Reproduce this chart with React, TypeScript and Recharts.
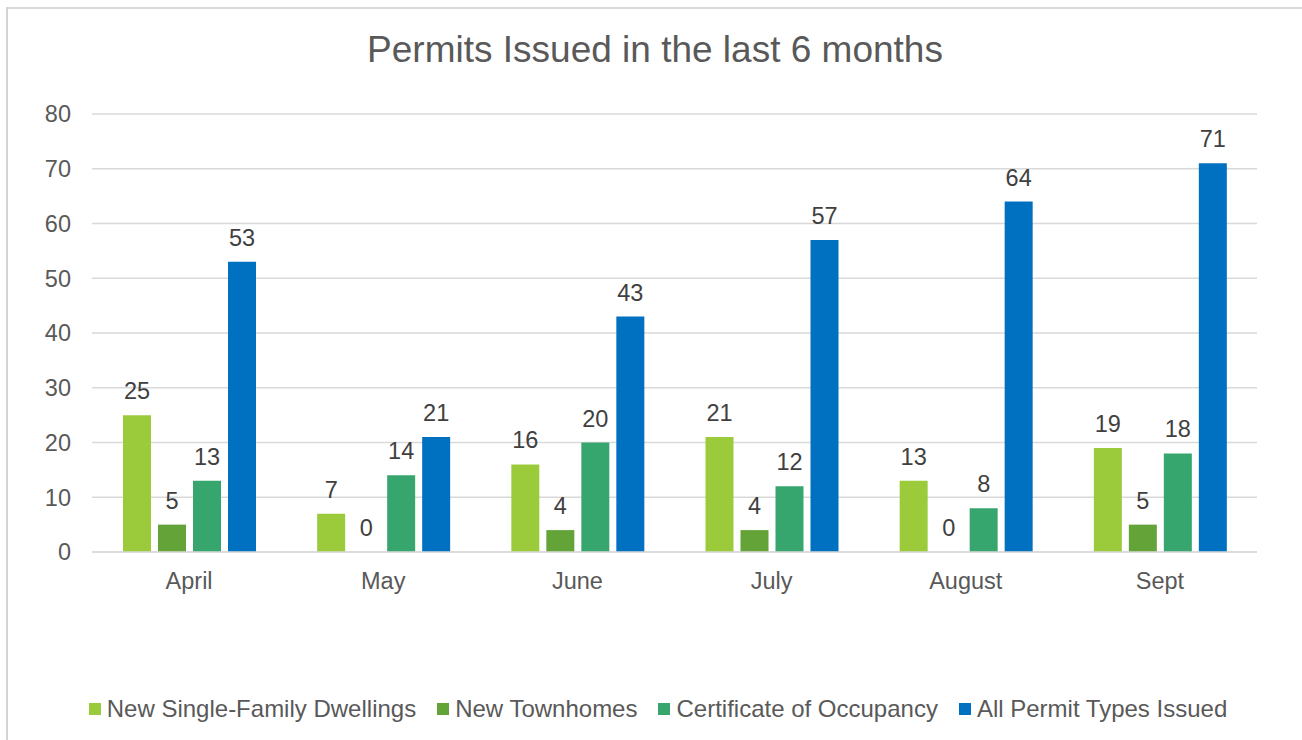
import { BarChart, Bar, XAxis, YAxis, CartesianGrid, LabelList, Rectangle } from 'recharts'

const MONTHS = ['April', 'May', 'June', 'July', 'August', 'Sept']
const SINGLE_FAMILY = [25, 7, 16, 21, 13, 19]
const TOWNHOMES = [5, 0, 4, 4, 0, 5]
const CERT_OCCUPANCY = [13, 14, 20, 12, 8, 18]
const ALL_PERMITS = [53, 21, 43, 57, 64, 71]
const Y_TICKS = [0, 10, 20, 30, 40, 50, 60, 70, 80]

const SERIES = [
  { key: 'single', name: 'New Single-Family Dwellings', color: '#9BCB3B' },
  { key: 'town', name: 'New Townhomes', color: '#63A338' },
  { key: 'cert', name: 'Certificate of Occupancy', color: '#37A66E' },
  { key: 'all', name: 'All Permit Types Issued', color: '#0070C0' },
]

const FONT = '"Liberation Sans", Arial, sans-serif'
const TEXT = '#595959'
const FS = 23.5

const data = MONTHS.map((m, i) => ({
  month: m,
  single: SINGLE_FAMILY[i],
  town: TOWNHOMES[i],
  cert: CERT_OCCUPANCY[i],
  all: ALL_PERMITS[i],
}))

function ValueLabel(props: any) {
  const { x, y, width, height, value } = props
  // zero bars get a 1px stub so their label still shows; anchor to the baseline
  const top = value === 0 ? y + height : y
  return (
    <text x={x + width / 2} y={top - 16} textAnchor="middle" fontSize={FS} fontFamily={FONT} fill="#404040">
      {value}
    </text>
  )
}

// hide the 1px stub of zero-value bars
function BarShape(props: any) {
  if (props.height <= 1.01) return <g />
  return <Rectangle {...props} />
}

export default function App() {
  return (
    <div style={{ position: 'fixed', left: 0, top: 0, width: 1302, height: 740, overflow: 'hidden', background: '#fff' }}>
      <div style={{ position: 'absolute', left: 0, top: 0 }}>
        <BarChart
          width={1302}
          height={740}
          data={data}
          margin={{ top: 114, right: 45, left: 32, bottom: 158 }}
          barSize={28}
          barGap={7}
        >
          <CartesianGrid vertical={false} stroke="#d9d9d9" strokeWidth={1.5} />
          <XAxis
            dataKey="month"
            height={30}
            axisLine={{ stroke: '#d9d9d9', strokeWidth: 1.5 }}
            tickLine={false}
            tickSize={0}
            tickMargin={20}
            tick={{ fontSize: FS, fontFamily: FONT, fill: TEXT }}
          />
          <YAxis
            width={60}
            domain={[0, 80]}
            ticks={Y_TICKS}
            axisLine={false}
            tickLine={false}
            tickSize={0}
            tickMargin={21}
            tick={{ fontSize: FS, fontFamily: FONT, fill: TEXT }}
          />
          {SERIES.map((s) => (
            <Bar
              key={s.key}
              dataKey={s.key}
              name={s.name}
              fill={s.color}
              minPointSize={1}
              shape={<BarShape />}
              isAnimationActive={false}
            >
              <LabelList dataKey={s.key} content={<ValueLabel />} />
            </Bar>
          ))}
        </BarChart>
      </div>
      <div
        style={{
          position: 'absolute',
          left: 0,
          top: 27,
          width: 1310,
          textAlign: 'center',
          fontFamily: FONT,
          fontSize: 37,
          color: TEXT,
          lineHeight: '46px',
        }}
      >
        Permits Issued in the last 6 months
      </div>
      <div
        style={{
          position: 'absolute',
          left: 0,
          top: 694,
          width: 1316,
          height: 30,
          display: 'flex',
          justifyContent: 'center',
          alignItems: 'center',
          gap: 21,
          fontFamily: FONT,
          fontSize: 24,
          color: TEXT,
        }}
      >
        {SERIES.map((s) => (
          <div key={s.key} style={{ display: 'flex', alignItems: 'center' }}>
            <span style={{ width: 12, height: 12, background: s.color, marginRight: 6, display: 'inline-block' }} />
            <span>{s.name}</span>
          </div>
        ))}
      </div>
      {/* chart-area frame: only top and left edges fall inside the picture */}
      <div style={{ position: 'absolute', left: 6, top: 7, width: 1296, height: 2, background: '#d9d9d9' }} />
      <div style={{ position: 'absolute', left: 6, top: 7, width: 2, height: 733, background: '#d4d4d4' }} />
    </div>
  )
}
